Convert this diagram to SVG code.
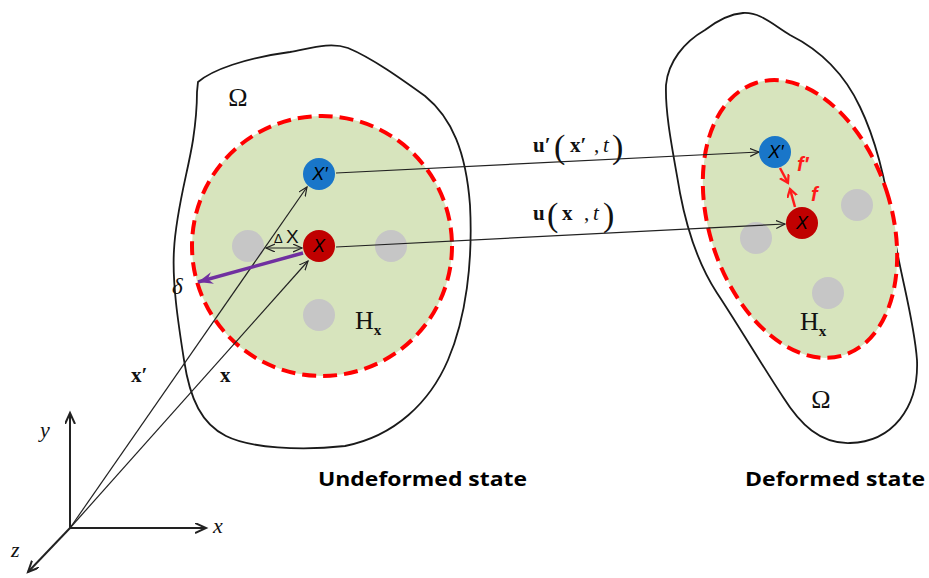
<svg xmlns="http://www.w3.org/2000/svg" width="929" height="578" viewBox="0 0 929 578">
<defs>
<style>
.blob{fill:none;stroke:#1a1a1a;stroke-width:1.8}
.horizon{fill:#d7e4bd;stroke:#ff0000;stroke-width:4;stroke-dasharray:14 7}
.gray{fill:#c6c6c6}
.blue{fill:#1976c9}
.red{fill:#c00000}
.nlab{font-family:"Liberation Sans",Arial,sans-serif;font-style:italic;font-size:18px;fill:#000;text-anchor:middle}
.serif{font-family:"Liberation Serif","Times New Roman",serif;fill:#111}
.thin{stroke:#222;stroke-width:1.2;fill:none}
.axis{stroke:#222;stroke-width:2;fill:none}
.state{font-family:"Open Sans","Liberation Sans",sans-serif;font-weight:bold;font-size:20px;fill:#000}
.flab{font-family:"Liberation Sans",Arial,sans-serif;font-weight:bold;font-style:italic;font-size:20px;fill:#ff1a1a}
</style>
<marker id="chev" markerUnits="userSpaceOnUse" markerWidth="12" markerHeight="10" refX="9" refY="4" orient="auto-start-reverse" viewBox="0 0 12 10">
<path d="M0,0 L9,4 L0,8" fill="none" stroke="#222" stroke-width="1.2"/>
</marker>
<marker id="axchev" markerUnits="userSpaceOnUse" markerWidth="14" markerHeight="12" refX="11" refY="5" orient="auto" viewBox="0 0 14 12">
<path d="M0,0 L11,5 L0,10" fill="none" stroke="#222" stroke-width="2"/>
</marker>
<marker id="redchev" markerUnits="userSpaceOnUse" markerWidth="12" markerHeight="12" refX="8" refY="5" orient="auto" viewBox="0 0 12 12">
<path d="M0,0 L8,5 L0,10" fill="none" stroke="#ff1a1a" stroke-width="2.2"/>
</marker>
<marker id="purp" markerUnits="userSpaceOnUse" markerWidth="18" markerHeight="14" refX="15" refY="6" orient="auto" viewBox="0 0 18 14">
<path d="M0,0 L15,6 L0,12 L5,6 Z" fill="#7030a0"/>
</marker>
</defs>
<rect width="929" height="578" fill="#ffffff"/>

<g id="left-domain">
<path class="blob" d="M197,92 L198,82 C212,70 245,58 290,52 C312,48 330,42 348,48 C372,58 400,78 425,96 C452,118 466,152 470,205 C473,262 466,318 448,360 C430,402 395,436 345,446 C300,451 250,448 226,436 C202,424 190,400 184,360 C178,322 172,282 174,250 C176,210 188,172 193,140 C196,120 197,104 197,92 Z"/>
<text class="serif" x="238" y="106" font-size="26" text-anchor="middle">Ω</text>
<circle class="horizon" cx="322" cy="246" r="130"/>
<text class="serif" x="355" y="329" font-size="26">H<tspan font-size="15" font-weight="bold" dy="6">x</tspan></text>
</g>

<g id="right-domain">
<path class="blob" d="M743,13 C760,12 772,24 790,35 C820,50 845,75 860,107 C876,140 886,180 893,230 C902,282 914,320 917,360 C919,408 892,442 850,443 C820,444 800,424 783,397 C765,370 735,320 717,293 C702,270 688,235 680,193 C673,152 665,115 666,85 C668,62 684,42 705,30 C718,20 730,14 743,13 Z"/>
<text class="serif" x="821" y="408" font-size="26" text-anchor="middle">Ω</text>
<ellipse class="horizon" cx="800" cy="219" rx="91" ry="143" transform="rotate(-18 800 219)"/>
<text class="serif" x="800" y="330" font-size="26">H<tspan font-size="15" font-weight="bold" dy="6">x</tspan></text>
</g>

<g id="gray-points">
<circle class="gray" cx="248" cy="246" r="16"/>
<circle class="gray" cx="391" cy="246" r="16"/>
<circle class="gray" cx="319" cy="315" r="16"/>
<circle class="gray" cx="857" cy="205" r="16"/>
<circle class="gray" cx="756" cy="238" r="16"/>
<circle class="gray" cx="828" cy="293" r="16"/>
</g>

<g id="connectors">
<line class="thin" x1="70" y1="528" x2="307" y2="187" marker-end="url(#chev)"/>
<line class="thin" x1="70" y1="528" x2="308" y2="261" marker-end="url(#chev)"/>
<line class="thin" x1="336" y1="173" x2="759" y2="152" marker-end="url(#chev)"/>
<line class="thin" x1="336" y1="247" x2="785" y2="224" marker-end="url(#chev)"/>
<line class="thin" x1="266" y1="248" x2="302" y2="248" stroke-width="1.5" marker-start="url(#chev)" marker-end="url(#chev)"/>
<line x1="303" y1="253" x2="198" y2="282" stroke="#7030a0" stroke-width="3.5" marker-end="url(#purp)"/>
<line x1="780" y1="168" x2="788" y2="183" stroke="#ff1a1a" stroke-width="2.5" marker-end="url(#redchev)"/>
<line x1="795" y1="207" x2="790" y2="189" stroke="#ff1a1a" stroke-width="2.5" marker-end="url(#redchev)"/>
</g>

<g id="axes">
<line class="axis" x1="70" y1="528" x2="70" y2="413" marker-end="url(#axchev)"/>
<line class="axis" x1="70" y1="528" x2="206" y2="528" marker-end="url(#axchev)"/>
<line class="axis" x1="70" y1="528" x2="28" y2="572" marker-end="url(#axchev)"/>
<text class="serif" x="40" y="437" font-size="22" font-style="italic">y</text>
<text class="serif" x="213" y="533" font-size="22" font-style="italic">x</text>
<text class="serif" x="11" y="557" font-size="22" font-style="italic">z</text>
</g>

<g id="node-xprime-left">
<circle class="blue" cx="319" cy="174" r="16"/>
<text class="nlab" x="320" y="180">X′</text>
</g>
<g id="node-x-left">
<circle class="red" cx="319" cy="246" r="16"/>
<text class="nlab" x="319" y="252">X</text>
</g>
<g id="node-xprime-right">
<circle class="blue" cx="775" cy="152" r="16"/>
<text class="nlab" x="776" y="158">X′</text>
</g>
<g id="node-x-right">
<circle class="red" cx="802" cy="223" r="16"/>
<text class="nlab" x="802" y="229">X</text>
</g>

<g id="labels">
<text x="274" y="243" font-family="Liberation Sans,Arial,sans-serif" font-size="13" fill="#111">Δ</text>
<text x="286" y="243" font-family="Liberation Sans,Arial,sans-serif" font-size="19" fill="#111">X</text>
<text class="serif" x="172" y="294" font-size="23" font-style="italic">δ</text>
<text class="serif" x="131" y="382" font-size="21" font-weight="bold">x′</text>
<text class="serif" x="220" y="382" font-size="21" font-weight="bold">x</text>
<text class="serif" font-size="21"><tspan x="533" y="152" font-weight="bold">u′</tspan><tspan x="554" y="158" font-size="34">(</tspan><tspan x="570" y="152" font-weight="bold">x′</tspan><tspan x="594" y="152">,</tspan><tspan x="603" y="152" font-style="italic">t</tspan><tspan x="612" y="158" font-size="34">)</tspan></text>
<text class="serif" font-size="21"><tspan x="533" y="220" font-weight="bold">u</tspan><tspan x="547" y="226" font-size="34">(</tspan><tspan x="562" y="220" font-weight="bold">x</tspan><tspan x="584" y="220">,</tspan><tspan x="593" y="220" font-style="italic">t</tspan><tspan x="603" y="226" font-size="34">)</tspan></text>
<text class="flab" x="797" y="171">f′</text>
<text class="flab" x="811" y="201">f</text>
<text class="state" x="318" y="486" textLength="209" lengthAdjust="spacingAndGlyphs">Undeformed state</text>
<text class="state" x="745" y="486" textLength="180" lengthAdjust="spacingAndGlyphs">Deformed state</text>
</g>
</svg>
